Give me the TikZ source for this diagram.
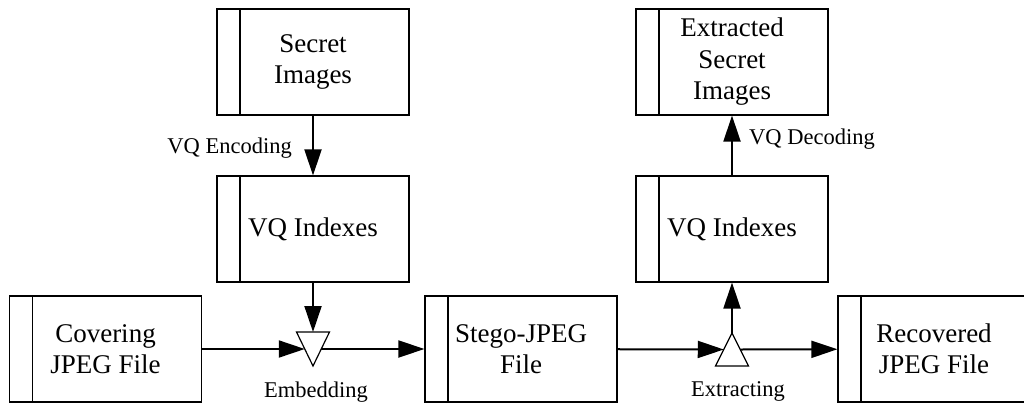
\documentclass[tikz,border=0pt]{standalone}
\usepackage{fontspec}
\setmainfont{Liberation Serif}
\usepackage{tikz}
\usetikzlibrary{arrows.meta,calc,positioning}
\tikzstyle{block}=[draw, line width=1.2pt, minimum width=192pt, minimum height=106pt, align=center, font=\fontsize{27}{31.5}\selectfont,
  path picture={\draw[line width=1.2pt] ([xshift=23pt]path picture bounding box.north west) -- ([xshift=23pt]path picture bounding box.south west);}]
\tikzstyle{lbl}=[inner sep=0pt, font=\fontsize{22.5}{27}\selectfont]

\begin{document}
\begin{tikzpicture}[x=1pt,y=-1pt,flow/.style={line width=2pt,-{Triangle[length=26pt,width=17pt]}},junc/.style={draw,line width=1.2pt,fill=white}]
\useasboundingbox (0,0) rectangle (1024,407);
\node (sec) at (313,62)[block] {Secret\\Images};
\node (idx1) at (313,229)[block] {VQ Indexes};
\node (cov) at (105.5,349)[block] {Covering\\JPEG File};
\node (steg) at (521,349)[block] {Stego-JPEG\\File};
\node (idx2) at (732,229)[block] {VQ Indexes};
\node (exsec) at (732,62)[block] {Extracted\\Secret\\Images};
\node (rec) at (934,349)[block] {Recovered\\JPEG File};
\coordinate (emb) at (313,349);
\coordinate (ext) at (732,349.5);
\node (enc) at (292,153)[lbl,anchor=base east] {VQ Encoding};
\node (dec) at (749,144)[lbl,anchor=base west] {VQ Decoding};
\node (embl) at (316,397)[lbl,anchor=base] {Embedding};
\node (extl) at (738,396)[lbl,anchor=base] {Extracting};
% embedding side
\draw[flow] (sec) -- (idx1);
\draw[flow] (idx1) -- ($(emb)+(0,-17)$);
\draw[flow] (cov) -- ($(emb)+(-8.25,0)$);
\draw[flow] ($(emb)+(8.25,0)$) -- (steg);
\draw[junc] ($(emb)+(-16.5,-17)$) -- ($(emb)+(16.5,-17)$) -- ($(emb)+(0,17)$) -- cycle;
% extracting side
\draw[flow] (steg) -- ($(ext)+(-8.25,0)$);
\draw[flow] ($(ext)+(8.25,0)$) -- (rec);
\draw[flow] ($(ext)+(0,-16.5)$) -- (idx2);
\draw[flow] (idx2) -- (exsec);
\draw[junc] ($(ext)+(-16.5,16.5)$) -- ($(ext)+(16.5,16.5)$) -- ($(ext)+(0,-16.5)$) -- cycle;
\end{tikzpicture}
\end{document}
